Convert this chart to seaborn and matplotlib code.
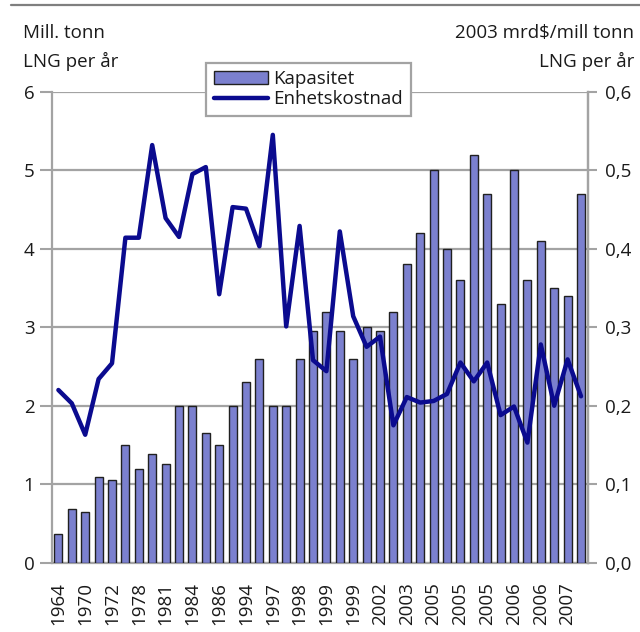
import numpy as np
import pandas as pd
import matplotlib
matplotlib.use("Agg")
import matplotlib.pyplot as plt
from matplotlib.patches import Patch
from matplotlib.lines import Line2D
import seaborn as sns

# ---- data ----
year_labels = ["1964", "1970", "1972", "1978", "1981", "1984", "1986", "1994",
               "1997", "1998", "1999", "1999", "2002", "2003", "2005", "2005",
               "2005", "2006", "2006", "2007"]
kapasitet = [0.36, 0.69, 0.65, 1.09, 1.05, 1.50, 1.20, 1.39, 1.26, 2.00,
             2.00, 1.65, 1.50, 2.00, 2.30, 2.60, 2.00, 2.00, 2.60, 2.95,
             3.20, 2.95, 2.60, 3.00, 2.95, 3.20, 3.80, 4.20, 5.00, 4.00,
             3.60, 5.20, 4.70, 3.30, 5.00, 3.60, 4.10, 3.50, 3.40, 4.70]
enhetskostnad = [0.220, 0.203, 0.163, 0.234, 0.254, 0.414, 0.414, 0.532, 0.439, 0.415,
                 0.495, 0.504, 0.342, 0.453, 0.451, 0.403, 0.545, 0.301, 0.429, 0.258,
                 0.244, 0.422, 0.314, 0.275, 0.288, 0.175, 0.211, 0.204, 0.206, 0.215,
                 0.255, 0.231, 0.255, 0.188, 0.199, 0.153, 0.278, 0.200, 0.259, 0.212]
left_ticks = [0, 1, 2, 3, 4, 5, 6]
right_ticks = [0.0, 0.1, 0.2, 0.3, 0.4, 0.5, 0.6]

n = len(kapasitet)
df = pd.DataFrame({"prosjekt": np.arange(n), "Kapasitet": kapasitet,
                   "Enhetskostnad": enhetskostnad})

# ---- style ----
sns.set_style("white")
plt.rcParams["font.family"] = ["Open Sans", "DejaVu Sans"]
FS = 13.5
TXT = "#1a1a1a"
GRID = "#a3a3a3"
BAR = "#7b80cf"
LINE = "#0b0b8f"

fig = plt.figure(figsize=(6.4, 6.32), dpi=100)
ax = fig.add_axes([51.7 / 640, 1 - 562.7 / 632, (587.7 - 51.7) / 640, (562.7 - 91.7) / 632])

sns.barplot(data=df, x="prosjekt", y="Kapasitet", ax=ax, color=BAR, saturation=1,
            edgecolor="#202020", linewidth=1.0, width=0.6, zorder=3)
ax.set_ylim(0, 6)
ax.set_xlim(-0.5, n - 0.5)
ax.set_yticks(left_ticks)
ax.set_yticklabels([str(t) for t in left_ticks], fontsize=FS, color=TXT)
ax.yaxis.grid(True, color=GRID, linewidth=1.6)
ax.set_axisbelow(True)
ax.set_xlabel("")
ax.set_ylabel("")

ax.set_xticks(np.arange(0, n, 2))
ax.set_xticklabels(year_labels, rotation=90, fontsize=FS, color=TXT)
ax.set_xticks(np.arange(-0.5, n, 1), minor=True)
ax.tick_params(axis="x", which="major", length=0, pad=14)
ax.tick_params(axis="x", which="minor", length=6, width=1.5, color=GRID, direction="out")
ax.tick_params(axis="y", which="major", length=9, width=1.5, color=GRID, pad=3.5)

for s in ["left", "right", "bottom"]:
    ax.spines[s].set_color(GRID)
    ax.spines[s].set_linewidth(1.6)
ax.spines["top"].set_visible(False)

ax2 = ax.twinx()
sns.lineplot(data=df, x="prosjekt", y="Enhetskostnad", ax=ax2, color=LINE,
             linewidth=3.2, zorder=4)
ax2.set_ylim(0, 0.6)
ax2.set_yticks(right_ticks)
ax2.set_yticklabels([f"{t:.1f}".replace(".", ",") for t in right_ticks],
                    fontsize=FS, color=TXT)
ax2.tick_params(axis="y", which="major", length=6.5, width=1.5, color=GRID, pad=6)
ax2.set_ylabel("")
ax2.set_xlabel("")
for s in ["left", "top", "bottom"]:
    ax2.spines[s].set_visible(False)
ax2.spines["right"].set_color(GRID)
ax2.spines["right"].set_linewidth(1.6)
ax.set_xlim(-0.5, n - 0.5)

# legend
handles = [Patch(facecolor=BAR, edgecolor="#202020", linewidth=1.0),
           Line2D([], [], color=LINE, linewidth=3.2)]
leg = ax2.legend(handles, ["Kapasitet", "Enhetskostnad"], loc="upper left",
                 bbox_to_anchor=(206 / 640, 1 - 62.7 / 632),
                 bbox_transform=fig.transFigure, fontsize=FS, frameon=True,
                 fancybox=False, framealpha=1, edgecolor=GRID, borderpad=0.4,
                 labelspacing=0.12, handlelength=2.9, handletextpad=0.3,
                 borderaxespad=0)
leg.get_frame().set_linewidth(1.6)
for t in leg.get_texts():
    t.set_color(TXT)

# axis titles
fig.text(22.7 / 640, 1 - 33 / 632, "Mill. tonn", fontsize=FS, color=TXT,
         ha="left", va="center")
fig.text(22.7 / 640, 1 - 61 / 632, "LNG per år", fontsize=FS, color=TXT,
         ha="left", va="center")
fig.text(634 / 640, 1 - 33 / 632, "2003 mrd$/mill tonn", fontsize=FS, color=TXT,
         ha="right", va="center")
fig.text(634 / 640, 1 - 61 / 632, "LNG per år", fontsize=FS, color=TXT,
         ha="right", va="center")

# top rule
fig.add_artist(Line2D([11 / 640, 1.0], [1 - 5 / 632, 1 - 5 / 632],
                      transform=fig.transFigure, color="#7f7f7f", linewidth=1.6))

fig.savefig("out.png", dpi=100)
